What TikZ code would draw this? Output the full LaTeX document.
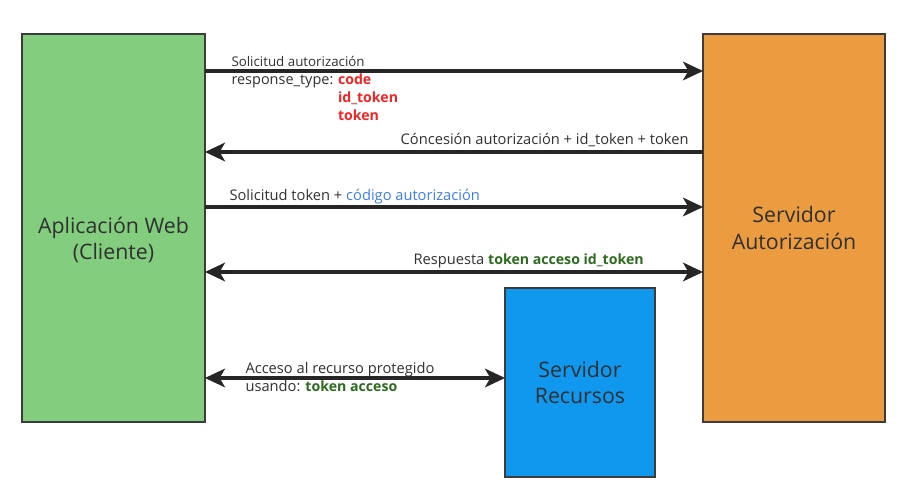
\documentclass[tikz,border=0pt]{standalone}
\usepackage{fontspec}
\setmainfont{Open Sans}
\usetikzlibrary{arrows.meta}
\definecolor{appgreen}{HTML}{83CE7E}
\definecolor{authorange}{HTML}{EB9C40}
\definecolor{resblue}{HTML}{1098EE}
\definecolor{boxline}{HTML}{3C3C3C}
\definecolor{flowline}{HTML}{262626}
\definecolor{txtgray}{HTML}{303030}
\definecolor{hlred}{HTML}{F22525}
\definecolor{hlblue}{HTML}{3D7CF2}
\definecolor{hlgreen}{HTML}{2D6B1F}
\newcommand\hlword[2]{\textcolor{#1}{\fontsize{10.6}{13.5}\selectfont\bfseries #2}}
\tikzset{every picture/.style={line width=0.75pt}}

\begin{document}
\begin{tikzpicture}[x=0.75pt,y=-0.75pt,
    box/.style={draw=boxline, line width=1.5pt, inner sep=0pt, outer sep=0pt},
    boxtext/.style={text=txtgray, align=center, font=\fontsize{16}{20}\selectfont},
    flow/.style={draw=flowline, line width=2.4pt, -{Stealth[length=15pt, width=14pt, inset=4pt]}},
    twoway/.style={flow, {Stealth[length=15pt, width=14pt, inset=4pt]}-{Stealth[length=15pt, width=14pt, inset=4pt]}},
    msg/.style={text=txtgray, inner sep=0pt, font=\fontsize{11}{13.5}\selectfont}]
    \useasboundingbox (0,0) rectangle (907,491);
    % boxes
    \node[box, fill=appgreen, minimum width=137.25pt, minimum height=291pt] (app) at (113.5,228){};
    \node[boxtext] at ([yshift=-9pt]app.center){Aplicación Web\\(Cliente)};
    \node[box, fill=authorange, minimum width=136.5pt, minimum height=291pt] (auth) at (794,228){};
    \node[boxtext] at (auth.center){Servidor\\Autorización};
    \node[box, fill=resblue, minimum width=112.5pt, minimum height=141.75pt] (res) at (580,382.5){};
    \node[boxtext] at (res.center){Servidor\\Recursos};
    % connectors
    \draw[flow] (app.east |- 0,71) -- (auth.west |- 0,71);
    \draw[flow] (auth.west |- 0,152) -- (app.east |- 0,152);
    \draw[flow] (app.east |- 0,207) -- (auth.west |- 0,207);
    \draw[twoway] (app.east |- 0,272) -- (auth.west |- 0,272);
    \draw[twoway] (app.east |- 0,378) -- (res.west |- 0,378);
    % labels
    \node[msg, anchor=base west, font=\fontsize{10}{13.5}\selectfont] at (231,67){\begin{tabular}[t]{@{}l@{\hspace{3.5pt}}l@{}}
        \multicolumn{2}{@{}l@{}}{Solicitud autorización}\\
        {\fontsize{10.85}{13.5}\selectfont response\_type:} & \hlword{hlred}{code}\\
        & \hlword{hlred}{id\_token}\\
        & \hlword{hlred}{token}
      \end{tabular}};
    \node[msg, anchor=base east] at (689,145){Cóncesión autorización + id\_token + token};
    \node[msg, anchor=base west] at (229,201){Solicitud token + \textcolor{hlblue}{código autorización}};
    \node[msg, anchor=base west] at (413,265){Respuesta \hlword{hlgreen}{token acceso id\_token}};
    \node[msg, anchor=base west] at (245,374){\begin{tabular}[t]{@{}l@{}}
        Acceso al recurso protegido\\
        usando: \hlword{hlgreen}{token acceso}
      \end{tabular}};
\end{tikzpicture}
\end{document}
